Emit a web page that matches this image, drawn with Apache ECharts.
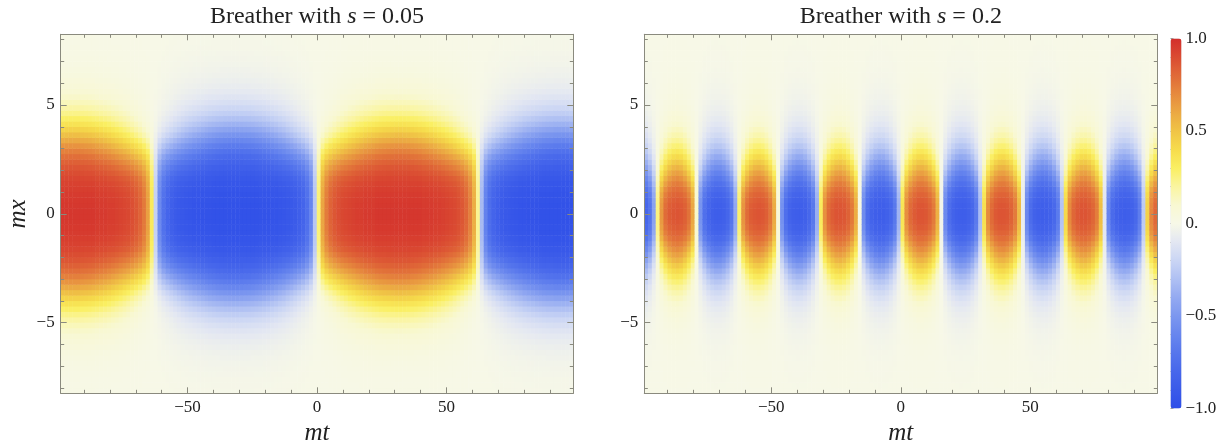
<!DOCTYPE html>
<html><head><meta charset="utf-8">
<script src="https://cdn.jsdelivr.net/npm/echarts@6/dist/echarts.min.js"></script>
<style>html,body{margin:0;padding:0;background:#fff}#c{width:1226px;height:447px}</style>
</head><body><div id="c"></div>
<script>
// ---------- data ----------
// mt cells of width 1.5 from -99 to 99.
// Centre-row profile (sharp, saturated lobes along mx = 0)
const tCoreS005 = [1.0,1.0,1.0,1.0,1.0,1.0,1.0,1.0,1.0,0.99,0.99,0.99,0.98,0.98,0.97,0.96,0.95,0.94,0.92,0.89,0.85,0.78,0.65,0.34,-0.23,-0.60,-0.76,-0.84,-0.89,-0.92,-0.94,-0.95,-0.96,-0.97,-0.98,-0.98,-0.99,-0.99,-0.99,-1.0,-1.0,-1.0,-1.0,-1.0,-1.0,-1.0,-1.0,-1.0,-1.0,-1.0,-1.0,-0.99,-0.99,-0.99,-0.98,-0.98,-0.97,-0.96,-0.95,-0.94,-0.92,-0.89,-0.85,-0.77,-0.63,-0.28,
 0.28,0.63,0.77,0.85,0.89,0.92,0.94,0.95,0.96,0.97,0.98,0.98,0.99,0.99,0.99,1.0,1.0,1.0,1.0,1.0,1.0,1.0,1.0,1.0,1.0,1.0,1.0,0.99,0.99,0.99,0.98,0.98,0.97,0.96,0.95,0.94,0.92,0.89,0.84,0.76,0.60,0.23,-0.34,-0.65,-0.78,-0.85,-0.89,-0.92,-0.94,-0.95,-0.96,-0.97,-0.98,-0.98,-0.99,-0.99,-0.99,-1.0,-1.0,-1.0,-1.0,-1.0,-1.0,-1.0,-1.0,-1.0];
// Outer-row profile (soft, rounded lobe edges away from mx = 0)
const tHaloS005 = [0.98,0.99,1.0,1.0,1.0,0.98,0.97,0.95,0.92,0.89,0.85,0.81,0.77,0.71,0.66,0.60,0.54,0.48,0.41,0.34,0.27,0.19,0.12,0.05,-0.03,-0.10,-0.18,-0.25,-0.32,-0.39,-0.46,-0.53,-0.59,-0.65,-0.70,-0.75,-0.80,-0.84,-0.88,-0.91,-0.94,-0.96,-0.98,-0.99,-1.0,-1.0,-0.99,-0.98,-0.97,-0.95,-0.92,-0.89,-0.85,-0.81,-0.76,-0.71,-0.65,-0.60,-0.53,-0.47,-0.40,-0.33,-0.26,-0.19,-0.11,-0.04,
 0.04,0.11,0.19,0.26,0.33,0.40,0.47,0.53,0.60,0.65,0.71,0.76,0.81,0.85,0.89,0.92,0.95,0.97,0.98,0.99,1.0,1.0,0.99,0.98,0.96,0.94,0.91,0.88,0.84,0.80,0.75,0.70,0.65,0.59,0.53,0.46,0.39,0.32,0.25,0.18,0.10,0.03,-0.05,-0.12,-0.19,-0.27,-0.34,-0.41,-0.48,-0.54,-0.60,-0.66,-0.71,-0.77,-0.81,-0.85,-0.89,-0.92,-0.95,-0.97,-0.98,-1.0,-1.0,-1.0,-0.99,-0.98];
const tCoreS02 = [-0.93,-0.82,-0.51,0.29,0.75,0.91,0.97,0.99,1.0,0.99,0.96,0.89,0.70,0.13,-0.60,-0.85,-0.94,-0.98,-1.0,-1.0,-0.98,-0.93,-0.81,-0.48,0.33,0.77,0.91,0.97,0.99,1.0,0.99,0.96,0.88,0.68,0.08,-0.62,-0.86,-0.95,-0.99,-1.0,-1.0,-0.98,-0.92,-0.80,-0.44,0.37,0.78,0.92,0.97,1.0,1.0,0.99,0.95,0.87,0.67,0.03,-0.65,-0.87,-0.95,-0.99,-1.0,-1.0,-0.97,-0.92,-0.79,-0.41,
 0.41,0.79,0.92,0.97,1.0,1.0,0.99,0.95,0.87,0.65,-0.03,-0.67,-0.87,-0.95,-0.99,-1.0,-1.0,-0.97,-0.92,-0.78,-0.37,0.44,0.80,0.92,0.98,1.0,1.0,0.99,0.95,0.86,0.62,-0.08,-0.68,-0.88,-0.96,-0.99,-1.0,-0.99,-0.97,-0.91,-0.77,-0.33,0.48,0.81,0.93,0.98,1.0,1.0,0.98,0.94,0.85,0.60,-0.13,-0.70,-0.89,-0.96,-0.99,-1.0,-0.99,-0.97,-0.91,-0.75,-0.29,0.51,0.82,0.93];
const tHaloS02 = [-0.72,-0.48,-0.20,0.10,0.39,0.64,0.84,0.96,1.0,0.95,0.81,0.60,0.34,0.04,-0.26,-0.53,-0.76,-0.92,-0.99,-0.98,-0.88,-0.71,-0.47,-0.18,0.12,0.40,0.66,0.85,0.97,1.0,0.94,0.80,0.59,0.32,0.03,-0.27,-0.54,-0.77,-0.92,-1.0,-0.98,-0.88,-0.69,-0.45,-0.17,0.13,0.42,0.67,0.86,0.97,1.0,0.93,0.79,0.57,0.30,0.01,-0.29,-0.56,-0.78,-0.93,-1.0,-0.98,-0.87,-0.68,-0.44,-0.15,
 0.15,0.44,0.68,0.87,0.98,1.0,0.93,0.78,0.56,0.29,-0.01,-0.30,-0.57,-0.79,-0.93,-1.0,-0.97,-0.86,-0.67,-0.42,-0.13,0.17,0.45,0.69,0.88,0.98,1.0,0.92,0.77,0.54,0.27,-0.03,-0.32,-0.59,-0.80,-0.94,-1.0,-0.97,-0.85,-0.66,-0.40,-0.12,0.18,0.47,0.71,0.88,0.98,0.99,0.92,0.76,0.53,0.26,-0.04,-0.34,-0.60,-0.81,-0.95,-1.0,-0.96,-0.84,-0.64,-0.39,-0.10,0.20,0.48,0.72];
// mx cells of height 0.25, upper half (mx = 0.125 ... 8.125); the picture is mirror-symmetric in mx.
const xCoreUpperS005 = [0.968,0.966,0.962,0.945,0.927,0.896,0.853,0.779,0.694,0.607,0.496,0.382,0.281,0.191,0.114,0.066,0.037,0.018,0.007,0,0,0,0,0,0,0,0,0,0,0,0,0,0];
const xHaloUpperS005 = [0,0,0,0.010,0.019,0.037,0.064,0.116,0.173,0.224,0.292,0.352,0.389,0.407,0.406,0.375,0.328,0.279,0.231,0.189,0.149,0.117,0.091,0.071,0.056,0.043,0.034,0.026,0.021,0.016,0.012,0.010,0.008];
const xCoreUpperS02 = [0.871,0.863,0.831,0.766,0.680,0.538,0.416,0.296,0.195,0.126,0.069,0.037,0.019,0.009,0.003,0,0,0,0,0,0,0,0,0,0,0,0,0,0,0,0,0,0];
const xHaloUpperS02 = [0,0,0.017,0.058,0.111,0.209,0.277,0.334,0.363,0.357,0.338,0.299,0.254,0.210,0.171,0.138,0.108,0.085,0.067,0.052,0.041,0.032,0.025,0.020,0.015,0.012,0.009,0.007,0.006,0.005,0.004,0.003,0.002];

const sValues = ['0.05', '0.2'];
const tExtent = [-99, 99];
const xExtent = [-8.25, 8.25];
const tMajorTicks = [-50, 0, 50];
const tMinorTicks = [-90,-80,-70,-60,-40,-30,-20,-10,10,20,30,40,60,70,80,90];
const xMajorTicks = [-5, 0, 5];
const xMinorTicks = [-8,-7,-6,-4,-3,-2,-1,1,2,3,4,6,7,8];
const barMajorTicks = [-1, -0.5, 0, 0.5, 1];
const barMinorTicks = [-0.9,-0.8,-0.7,-0.6,-0.4,-0.3,-0.2,-0.1,0.1,0.2,0.3,0.4,0.6,0.7,0.8,0.9];

// ---------- styling ----------
const colorStops = ['#2e4ee8','#3a5ae9','#4767eb','#5676ec','#6886ee','#7c97ef','#94aaf1','#afc0f3','#cad5f4','#e3e7f2','#f7f8e7','#f8f8d2','#faf5a0','#faef62','#f6dc4c','#f0c446','#eba843','#e68a3e','#e06a38','#da4b32','#d32e2c'];
const FONT = '"Liberation Serif", "DejaVu Serif", serif';
const frameColor = '#8a8a7e';
const mirror = h => h.slice().reverse().concat(h);
const panels = [
  {left: 60.7, top: 34.3, width: 512.6, height: 359, Tc: tCoreS005, Th: tHaloS005, Xc: mirror(xCoreUpperS005), Xh: mirror(xHaloUpperS005)},
  {left: 644.3, top: 34.3, width: 513, height: 359, Tc: tCoreS02, Th: tHaloS02, Xc: mirror(xCoreUpperS02), Xh: mirror(xHaloUpperS02)}
];
const bar = {left: 1170.5, top: 38.5, width: 11, height: 370};
const minus = v => (v < 0 ? '\u2212' : '') + Math.abs(v);

const grid = [], xAxis = [], yAxis = [], series = [];
panels.forEach((p, g) => {
  grid.push({left: p.left, top: p.top, width: p.width, height: p.height, containLabel: false});
  const catX = p.Tc.map((_, i) => i), catY = p.Xc.map((_, j) => j);
  const xi = xAxis.length, yi = yAxis.length;
  xAxis.push({type: 'category', gridIndex: g, data: catX, show: false, boundaryGap: true});
  yAxis.push({type: 'category', gridIndex: g, data: catY, show: false, boundaryGap: true});
  const mk = (pos, ticks, len, line, labels, ext, labelVals) => ({
    type: 'value', gridIndex: g, position: pos, offset: 0, min: ext[0], max: ext[1],
    axisLine: {show: line, onZero: false, lineStyle: {color: frameColor, width: 1}},
    axisTick: {show: true, inside: true, length: len, customValues: ticks, lineStyle: {color: frameColor, width: 1}},
    axisLabel: labels ? {show: true, customValues: labelVals, formatter: minus, fontFamily: FONT, fontSize: 17, color: '#222', margin: 6} : {show: false},
    splitLine: {show: false}, minorTick: {show: false}, z: 10
  });
  xAxis.push(mk('bottom', tMajorTicks, 6, true, true, tExtent, tMajorTicks));
  xAxis.push(mk('bottom', tMinorTicks, 3.5, false, false, tExtent));
  xAxis.push(mk('top', tMajorTicks, 6, true, false, tExtent));
  xAxis.push(mk('top', tMinorTicks, 3.5, false, false, tExtent));
  yAxis.push(mk('left', xMajorTicks, 6, true, true, xExtent, xMajorTicks));
  yAxis.push(mk('left', xMinorTicks, 3.5, false, false, xExtent));
  yAxis.push(mk('right', xMajorTicks, 6, true, false, xExtent));
  yAxis.push(mk('right', xMinorTicks, 3.5, false, false, xExtent));
  const cells = [];
  p.Tc.forEach((tc, i) => p.Xc.forEach((xc, j) => cells.push([i, j, +(tc * xc + p.Th[i] * p.Xh[j]).toFixed(4)])));
  series.push({type: 'heatmap', xAxisIndex: xi, yAxisIndex: yi, data: cells, progressive: 0, emphasis: {disabled: true}, itemStyle: {borderWidth: 0}});
});

// colour bar label axis
grid.push({left: bar.left, top: bar.top, width: bar.width, height: bar.height});
xAxis.push({type: 'value', gridIndex: 2, show: false, min: 0, max: 1});
yAxis.push({type: 'value', gridIndex: 2, position: 'right', min: -1, max: 1,
  axisLine: {show: false},
  axisTick: {show: true, inside: false, length: 3, customValues: barMajorTicks.concat(barMinorTicks), lineStyle: {color: '#999'}},
  axisLabel: {show: true, customValues: barMajorTicks, margin: 4, fontFamily: FONT, fontSize: 17, color: '#222',
    formatter: v => v === 0 ? '0.' : (v < 0 ? '\u2212' : '') + Math.abs(v).toFixed(1)},
  splitLine: {show: false}});

const titleRich = {n: {fontFamily: FONT, fontSize: 24, fill: '#222'}, i: {fontFamily: FONT, fontSize: 24, fontStyle: 'italic', fill: '#222'}};
const graphic = [];
panels.forEach((p, g) => {
  graphic.push({type: 'text', x: p.left + p.width / 2, y: 17, z: 20,
    style: {text: '{n|Breather with }{i|s}{n| = ' + sValues[g] + '}', rich: titleRich, align: 'center', verticalAlign: 'middle', textAlign: 'center', textVerticalAlign: 'middle'}});
  graphic.push({type: 'text', x: p.left + p.width / 2, y: 433, z: 20,
    style: {text: 'mt', font: 'italic 25px ' + FONT, fill: '#222', align: 'center', verticalAlign: 'middle', textAlign: 'center', textVerticalAlign: 'middle'}});
});
graphic.push({type: 'text', x: 18, y: 214, rotation: Math.PI / 2, z: 20,
  style: {text: 'mx', font: 'italic 25px ' + FONT, fill: '#222', align: 'center', verticalAlign: 'middle', textAlign: 'center', textVerticalAlign: 'middle'}});

const chart = echarts.init(document.getElementById('c'), null, {renderer: 'canvas'});
chart.setOption({
  animation: false,
  backgroundColor: '#ffffff',
  grid, xAxis, yAxis, series, graphic,
  visualMap: {type: 'continuous', min: -1, max: 1, calculable: false, seriesIndex: [0, 1],
    left: bar.left, top: bar.top, itemWidth: bar.width, itemHeight: bar.height, padding: 0, text: null,
    inRange: {color: colorStops}, hoverLink: false}
});
</script></body></html>
